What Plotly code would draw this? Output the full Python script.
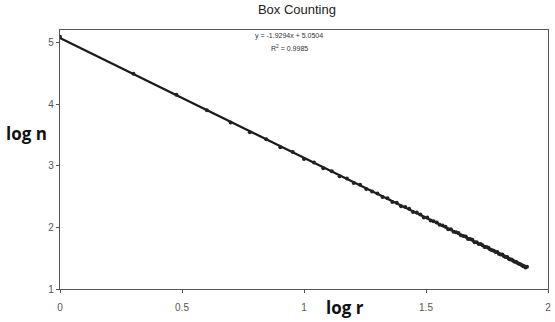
import numpy as np
import plotly.graph_objects as go

log_r = [0.000, 0.301, 0.477, 0.602, 0.699, 0.778, 0.845, 0.903, 0.954, 1.000,
         1.041, 1.079, 1.114, 1.146, 1.176, 1.204, 1.230, 1.255, 1.279, 1.301,
         1.322, 1.342, 1.362, 1.380, 1.398, 1.415, 1.431, 1.447, 1.462, 1.477,
         1.491, 1.505, 1.519, 1.531, 1.544, 1.556, 1.568, 1.580, 1.591, 1.602,
         1.613, 1.623, 1.633, 1.643, 1.653, 1.663, 1.672, 1.681, 1.690, 1.699,
         1.708, 1.716, 1.724, 1.732, 1.740, 1.748, 1.756, 1.763, 1.771, 1.778,
         1.785, 1.792, 1.799, 1.806, 1.813, 1.820, 1.826, 1.833, 1.839, 1.845,
         1.851, 1.857, 1.863, 1.869, 1.875, 1.881, 1.886, 1.892, 1.898, 1.903,
         1.908, 1.914]
log_n = [5.09, 4.49, 4.15, 3.90, 3.70, 3.54, 3.43, 3.30, 3.22, 3.11,
         3.05, 2.96, 2.91, 2.83, 2.79, 2.72, 2.69, 2.62, 2.58, 2.55,
         2.49, 2.47, 2.41, 2.40, 2.34, 2.33, 2.30, 2.25, 2.24, 2.21,
         2.16, 2.16, 2.11, 2.10, 2.08, 2.04, 2.03, 2.01, 1.97, 1.97,
         1.93, 1.92, 1.91, 1.87, 1.86, 1.85, 1.81, 1.81, 1.80, 1.76,
         1.76, 1.73, 1.73, 1.71, 1.68, 1.68, 1.67, 1.64, 1.63, 1.62,
         1.60, 1.60, 1.57, 1.56, 1.56, 1.53, 1.52, 1.52, 1.49, 1.48,
         1.48, 1.46, 1.44, 1.44, 1.42, 1.41, 1.40, 1.39, 1.37, 1.37,
         1.35, 1.36]
x_ticks = [0, 0.5, 1, 1.5, 2]
x_tick_labels = ["0", "0.5", "1", "1.5", "2"]
y_ticks = [1, 2, 3, 4, 5]
equation_text = "y = -1.9294x + 5.0504"
r2_text = "R<sup>2</sup> = 0.9985"

slope, intercept = np.polyfit(log_r, log_n, 1)
trend_x = [0, max(log_r)]
trend_y = [intercept + slope * v for v in trend_x]

fig = go.Figure()
fig.add_trace(go.Scatter(x=trend_x, y=trend_y, mode="lines",
                         line=dict(color="#1a1a1a", width=2.2), showlegend=False))
fig.add_trace(go.Scatter(x=log_r, y=log_n, mode="markers",
                         marker=dict(color="#222222", size=4), showlegend=False))

fig.update_layout(
    width=555, height=322,
    margin=dict(l=60, r=7, t=30, b=33, autoexpand=False),
    paper_bgcolor="white", plot_bgcolor="white",
    font=dict(family="Liberation Sans, Arial", color="#444"),
    title=dict(text="Box Counting", x=0.535, xanchor="center", y=0.985, yanchor="top",
               font=dict(size=13, color="#222", family="Liberation Sans, Arial")),
    xaxis=dict(range=[0, 2], tickvals=x_ticks, ticktext=x_tick_labels, automargin=False,
               showgrid=False, zeroline=False, showline=True, linecolor="#555",
               linewidth=1.2, mirror=True, ticks="outside", ticklen=3,
               ticklabelstandoff=6,
               tickcolor="#555", tickfont=dict(size=10, color="#555")),
    yaxis=dict(range=[1, 5.2], tickvals=y_ticks, showgrid=False, zeroline=False,
               automargin=False,
               showline=True, linecolor="#555", linewidth=1.2, mirror=True,
               ticks="outside", ticklen=3, tickcolor="#555",
               tickfont=dict(size=10, color="#555")),
)
fig.add_annotation(text=equation_text, xref="paper", yref="paper", x=0.47, y=1.0,
                   xanchor="center", yanchor="top", showarrow=False,
                   font=dict(size=7, color="#333"))
fig.add_annotation(text=r2_text, xref="paper", yref="paper", x=0.47, y=0.955,
                   xanchor="center", yanchor="top", showarrow=False,
                   font=dict(size=7, color="#333"))
fig.add_annotation(text="<b>log n</b>", xref="paper", yref="paper", x=-0.115, y=0.6,
                   xanchor="left", yanchor="middle", showarrow=False,
                   font=dict(size=17, color="#111", family="Open Sans, Liberation Sans"))
fig.add_annotation(text="<b>log r</b>", xref="paper", yref="paper", x=0.585, y=-0.07,
                   xanchor="center", yanchor="middle", showarrow=False,
                   font=dict(size=17, color="#111", family="Open Sans, Liberation Sans"))

fig.write_html("out.html", config={"displayModeBar": False},
               post_script="document.body.style.margin='0';document.body.style.padding='0';document.body.style.overflow='hidden';")
